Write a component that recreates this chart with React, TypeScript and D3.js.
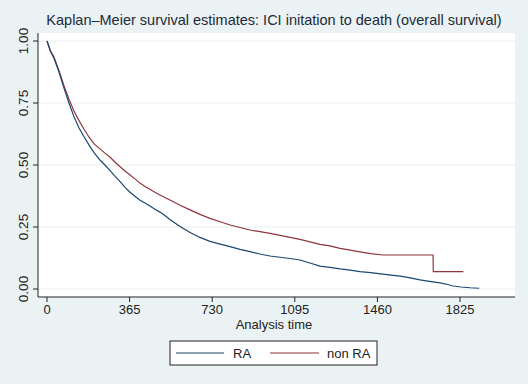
import React from 'react';
import * as d3 from 'd3';

// Kaplan-Meier estimates (days, survival)
const raTime = [0, 15, 31, 53, 75, 97, 119, 141, 163, 186, 208, 234, 256, 278, 300, 323, 345, 367, 390, 411, 433, 455, 477, 499, 521, 543, 588, 632, 676, 720, 765, 809, 853, 897, 941, 985, 1030, 1074, 1118, 1162, 1206, 1250, 1295, 1340, 1383, 1430, 1485, 1520, 1560, 1605, 1648, 1690, 1737, 1770, 1795, 1830, 1870, 1910];
const raSurv = [1.0, 0.96, 0.93, 0.875, 0.81, 0.75, 0.695, 0.65, 0.615, 0.58, 0.55, 0.52, 0.5, 0.478, 0.455, 0.433, 0.41, 0.39, 0.373, 0.358, 0.347, 0.335, 0.322, 0.31, 0.296, 0.28, 0.252, 0.228, 0.208, 0.192, 0.181, 0.171, 0.16, 0.151, 0.141, 0.133, 0.128, 0.123, 0.117, 0.105, 0.092, 0.087, 0.081, 0.076, 0.07, 0.066, 0.06, 0.056, 0.052, 0.045, 0.037, 0.031, 0.025, 0.018, 0.012, 0.008, 0.005, 0.003];

const nonRaTime = [0, 15, 31, 53, 75, 97, 119, 141, 163, 186, 208, 234, 256, 278, 300, 323, 345, 367, 390, 411, 433, 455, 477, 499, 521, 543, 588, 632, 676, 720, 765, 809, 853, 897, 941, 985, 1030, 1074, 1118, 1162, 1206, 1250, 1295, 1340, 1383, 1430, 1485, 1706, 1707, 1840];
const nonRaSurv = [1.0, 0.96, 0.935, 0.88, 0.82, 0.765, 0.718, 0.68, 0.645, 0.612, 0.585, 0.565, 0.548, 0.532, 0.512, 0.493, 0.476, 0.46, 0.443, 0.427, 0.413, 0.402, 0.39, 0.379, 0.369, 0.359, 0.338, 0.319, 0.301, 0.285, 0.271, 0.258, 0.248, 0.238, 0.231, 0.224, 0.216, 0.208, 0.2, 0.19, 0.18, 0.174, 0.164, 0.157, 0.15, 0.143, 0.137, 0.137, 0.07, 0.07];

const xTicks = [0, 365, 730, 1095, 1460, 1825];
const yTicks = [0, 0.25, 0.5, 0.75, 1];

const W = 528;
const H = 384;
const FONT = 'Liberation Sans, Arial, sans-serif';
const NAVY = '#1a476f';
const MAROON = '#90353b';
const INK = '#222';

export default function App() {
  // plot region
  const region = { left: 38, right: 515, top: 33, bottom: 297 };

  const x = d3.scaleLinear().domain([0, 1825]).range([47, 460]);
  const y = d3.scaleLinear().domain([0, 1]).range([289, 41]);

  const line = d3.line<[number, number]>()
    .x(d => x(d[0]))
    .y(d => y(d[1]));

  const raPath = line(raTime.map((t, i) => [t, raSurv[i]] as [number, number])) || '';
  const nonRaPath = line(nonRaTime.map((t, i) => [t, nonRaSurv[i]] as [number, number])) || '';

  return (
    <svg width={W} height={H} style={{ position: 'absolute', left: 0, top: 0 }} fontFamily={FONT}>
      <rect x={0} y={0} width={W} height={H} fill="#eaf2f3" />
      <rect x={region.left} y={region.top} width={region.right - region.left} height={region.bottom - region.top} fill="#ffffff" />

      {/* grid lines */}
      {yTicks.map(t => (
        <line key={'g' + t} x1={region.left} x2={region.right} y1={y(t)} y2={y(t)} stroke="#e6eef0" strokeWidth={1} />
      ))}

      {/* y axis */}
      <line x1={region.left} x2={region.left} y1={region.top} y2={region.bottom} stroke={INK} strokeWidth={1} />
      {yTicks.map(t => (
        <g key={'y' + t}>
          <line x1={region.left - 5} x2={region.left} y1={y(t)} y2={y(t)} stroke={INK} />
          <text transform={`translate(28,${y(t)}) rotate(-90)`} textAnchor="middle" fontSize={13.5} fill={INK}>
            {t.toFixed(2)}
          </text>
        </g>
      ))}

      {/* x axis */}
      <line x1={region.left} x2={region.right} y1={region.bottom} y2={region.bottom} stroke={INK} strokeWidth={1} />
      {xTicks.map(t => (
        <g key={'x' + t}>
          <line x1={x(t)} x2={x(t)} y1={region.bottom} y2={region.bottom + 5} stroke={INK} />
          <text x={x(t)} y={314} textAnchor="middle" fontSize={13} fill={INK}>{t}</text>
        </g>
      ))}
      <text x={274} y={329} textAnchor="middle" fontSize={13} fill={INK}>Analysis time</text>

      {/* curves */}
      <path d={nonRaPath} fill="none" stroke={MAROON} strokeWidth={1.2} />
      <path d={raPath} fill="none" stroke={NAVY} strokeWidth={1.2} />

      {/* title */}
      <text x={274} y={25} textAnchor="middle" fontSize={14.5} fill="#1e2a3a">
        Kaplan–Meier survival estimates: ICI initation to death (overall survival)
      </text>

      {/* legend */}
      <rect x={170} y={341} width={207} height={24} fill="#ffffff" stroke={INK} strokeWidth={1} />
      <line x1={176} x2={224} y1={353} y2={353} stroke={NAVY} strokeWidth={1.2} />
      <text x={233} y={358} fontSize={13} fill={INK}>RA</text>
      <line x1={270} x2={319} y1={353} y2={353} stroke={MAROON} strokeWidth={1.2} />
      <text x={327} y={358} fontSize={13} fill={INK}>non RA</text>
    </svg>
  );
}
